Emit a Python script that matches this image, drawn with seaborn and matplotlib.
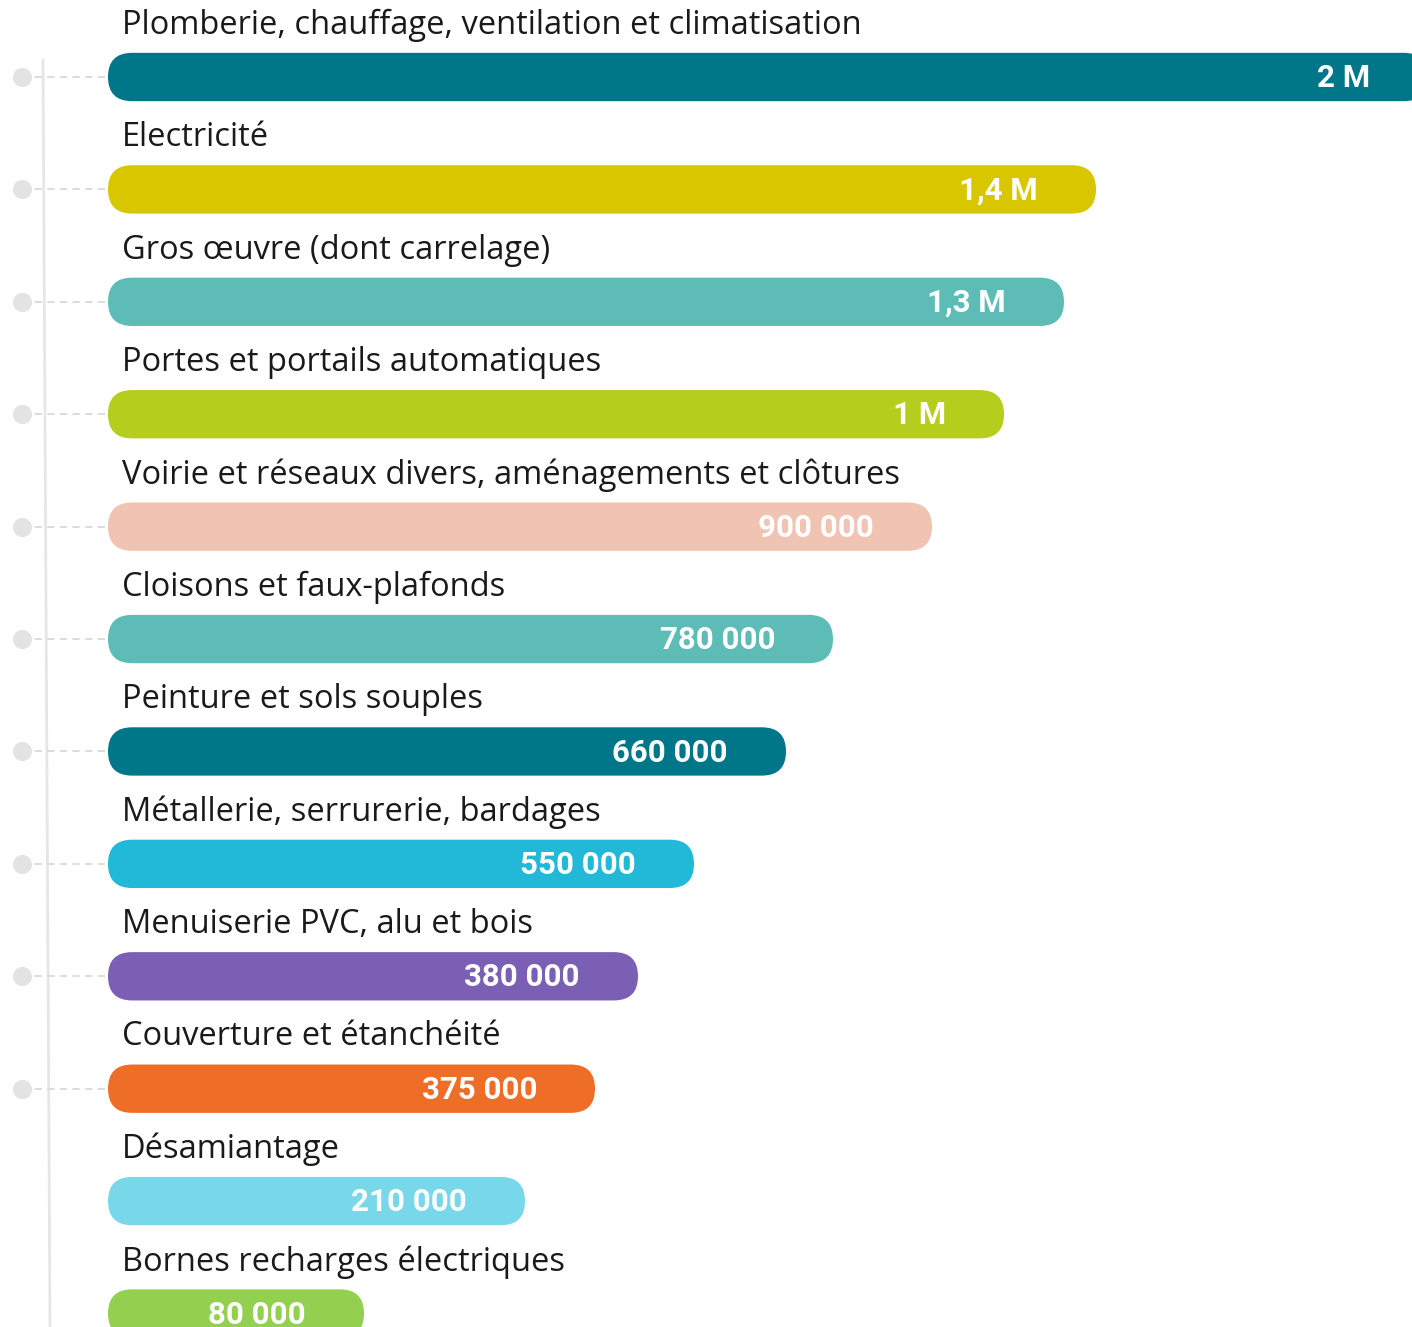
import numpy as np
import pandas as pd
import seaborn as sns
import matplotlib.pyplot as plt
from matplotlib.patches import FancyBboxPatch

labels = [
    "Plomberie, chauffage, ventilation et climatisation",
    "Electricité",
    "Gros œuvre (dont carrelage)",
    "Portes et portails automatiques",
    "Voirie et réseaux divers, aménagements et clôtures",
    "Cloisons et faux-plafonds",
    "Peinture et sols souples",
    "Métallerie, serrurerie, bardages",
    "Menuiserie PVC, alu et bois",
    "Couverture et étanchéité",
    "Désamiantage",
    "Bornes recharges électriques",
]
value_text = ["2 M", "1,4 M", "1,3 M", "1 M", "900 000", "780 000", "660 000",
              "550 000", "380 000", "375 000", "210 000", "80 000"]
# bar lengths as drawn in the infographic (not proportional to the values)
bar_len = [1320, 988, 956, 896, 824, 725, 678, 586, 530, 487, 417, 256]
colors = ["#007789", "#D7C600", "#5DBDB6", "#B5CD1C", "#F1C3B3", "#5DBDB6",
          "#007789", "#22B8D8", "#7B5FB5", "#EE6E28", "#78D7E8", "#94D050"]

df = pd.DataFrame({"label": labels, "len": bar_len})

sns.set_style("white")
fig = plt.figure(figsize=(14.12, 13.27), dpi=100)
ax = fig.add_axes([0, 0, 1, 1])

sns.barplot(data=df, x="len", y="label", hue="label", palette=colors,
            saturation=1, orient="h", width=0.43, legend=False, ax=ax)

step = 112.4  # px per category
ax.set_xlim(-108, 1304)
ax.set_ylim(11.12, -0.685)
ax.axis("off")

# swap rectangles for rounded bars
for p in list(ax.patches):
    x, y = p.get_x(), p.get_y()
    w, h = p.get_width(), p.get_height()
    r = h * step / 2
    fb = FancyBboxPatch((x, y), w, h,
                        boxstyle=f"round,pad=0,rounding_size={r}",
                        mutation_aspect=1 / step,
                        facecolor=p.get_facecolor(), edgecolor="none", zorder=3)
    ax.add_patch(fb)
    p.set_visible(False)

# guide line, dots and dashes on the left
ax.plot([-65, -58], [-0.15, 11.12], color="#e6e6e6", lw=2, zorder=1)
for i in range(10):
    ax.hlines(i, -86, 0, colors="#d9d9d9", linestyles=(0, (4, 3)), lw=1.3, zorder=1)
    ax.scatter(-86, i, s=190, color="#e3e3e3", zorder=2, linewidths=0)

for i, (lab, vt, l) in enumerate(zip(labels, value_text, bar_len)):
    ax.text(14, i - 0.46, lab, ha="left", va="center", fontsize=23.5,
            family="Open Sans", color="#1a1a1a")
    ax.text(l - 58, i + 0.01, vt, ha="right", va="center", fontsize=22.5,
            family="Roboto", fontweight="bold", color="white", zorder=4)

fig.savefig("out.png", dpi=100)
